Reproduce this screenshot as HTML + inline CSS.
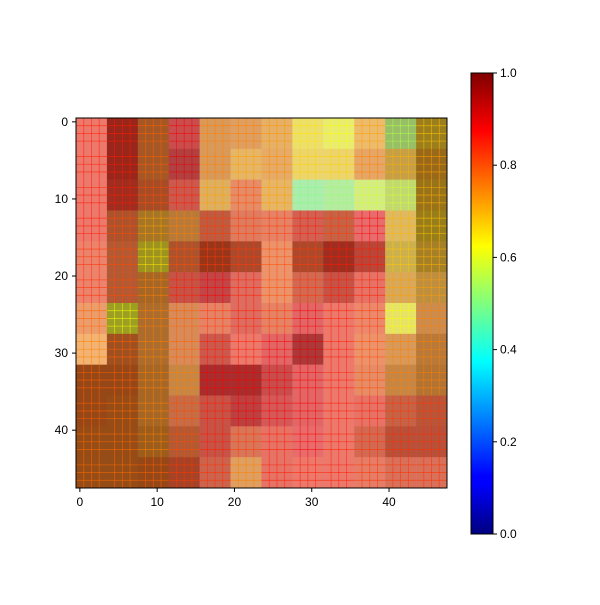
<!DOCTYPE html>
<html><head><meta charset="utf-8"><style>
body{margin:0;background:#fff;}
svg text{font-family:"Liberation Sans",sans-serif;font-size:12px;fill:#000;}
</style></head><body>
<svg id="chart" width="600" height="600">
<defs><linearGradient id="jet" x1="0" y1="1" x2="0" y2="0">
<stop offset="0" stop-color="#00007f"/><stop offset="0.11" stop-color="#0000ff"/><stop offset="0.125" stop-color="#0000ff"/>
<stop offset="0.375" stop-color="#00ffff"/><stop offset="0.5" stop-color="#7fff7f"/><stop offset="0.625" stop-color="#ffff00"/>
<stop offset="0.875" stop-color="#ff0000"/><stop offset="1" stop-color="#7f0000"/></linearGradient></defs>
<g id="cells"></g>
<rect x="76" y="118" width="371" height="370" fill="none" stroke="#000" stroke-width="1"/>
<g id="axes"></g>
<rect x="471" y="73" width="22" height="461" fill="url(#jet)" stroke="#000" stroke-width="1"/>
<g id="cbar"></g>
</svg>
<script>
const heat = [
[.85,.85,.78,.88,.75,.75,.73,.65,.62,.72,.55,.68],
[.85,.85,.78,.9,.75,.72,.74,.67,.67,.75,.7,.72],
[.85,.85,.8,.85,.72,.8,.72,.5,.52,.58,.58,.7],
[.85,.8,.72,.75,.82,.82,.82,.85,.82,.88,.7,.68],
[.83,.8,.65,.8,.82,.82,.8,.82,.85,.85,.68,.7],
[.83,.8,.75,.85,.88,.85,.8,.83,.85,.85,.72,.72],
[.78,.62,.75,.78,.82,.85,.82,.88,.85,.82,.63,.75],
[.75,.78,.75,.78,.85,.85,.88,.9,.85,.8,.75,.75],
[.78,.78,.75,.75,.88,.88,.88,.88,.85,.8,.75,.75],
[.78,.77,.75,.8,.85,.88,.88,.88,.85,.85,.82,.82],
[.77,.77,.75,.8,.85,.82,.85,.88,.85,.83,.83,.83],
[.77,.77,.78,.82,.83,.75,.85,.85,.85,.83,.83,.83]];
const face = [
[.85,.2,.3,.6,.7,.75,.8,.85,.85,.85,.5,.22],
[.85,.2,.3,.5,.7,.8,.8,.85,.85,.8,.55,.2],
[.85,.25,.3,.6,.75,.8,.8,.85,.85,.85,.7,.2],
[.85,.35,.3,.45,.5,.75,.8,.65,.55,.85,.75,.2],
[.85,.4,.25,.35,.2,.35,.85,.35,.25,.45,.6,.3],
[.85,.4,.3,.55,.55,.75,.85,.65,.55,.8,.7,.5],
[.85,.25,.35,.7,.8,.75,.8,.8,.85,.85,.8,.6],
[.9,.25,.35,.7,.6,.85,.8,.45,.85,.85,.7,.45],
[.18,.18,.3,.55,.35,.35,.6,.8,.85,.8,.55,.4],
[.18,.18,.3,.55,.55,.5,.7,.8,.85,.8,.55,.45],
[.18,.18,.22,.4,.55,.7,.8,.85,.85,.65,.45,.45],
[.18,.18,.18,.3,.6,.75,.8,.85,.85,.8,.7,.7]];
const xTicks = [0,10,20,30,40];
const cbTicks = [0.0,0.2,0.4,0.6,0.8,1.0];
const NS='http://www.w3.org/2000/svg';
const X0=76,Y0=118,PW=371/48,PH=370/48;
const px=i=>X0+(i+0.5)*PW, py=i=>Y0+(i+0.5)*PH;
const cl=v=>Math.max(0,Math.min(1,v));
function jet(v){return [cl(1.5-Math.abs(4*v-3)),cl(1.5-Math.abs(4*v-2)),cl(1.5-Math.abs(4*v-1))];}
function rgb(c){return 'rgb('+c.map(x=>Math.round(x*255)).join(',')+')';}
const cells=document.getElementById('cells');
for(let r=0;r<12;r++)for(let c=0;c<12;c++){
  const j=jet(heat[r][c]), g=face[r][c];
  const mix=j.map(x=>0.5*x+0.5*g);
  const b=document.createElementNS(NS,'rect');
  b.setAttribute('x',X0+c*4*PW);b.setAttribute('y',Y0+r*4*PH);
  b.setAttribute('width',4*PW+0.3);b.setAttribute('height',4*PH+0.3);
  b.setAttribute('fill',rgb(mix));
  
  
  cells.appendChild(b);
  const col=rgb(j);
  for(let k=1;k<4;k++){
    const lv=document.createElementNS(NS,'line');
    const xx=X0+(c*4+k)*PW;
    lv.setAttribute('x1',xx);lv.setAttribute('x2',xx);lv.setAttribute('y1',Y0+r*4*PH);lv.setAttribute('y2',Y0+(r+1)*4*PH);
    lv.setAttribute('stroke',col);lv.setAttribute('stroke-opacity','0.6');lv.setAttribute('stroke-width','0.8');
    
    
    cells.appendChild(lv);
    const lh=document.createElementNS(NS,'line');
    const yy=Y0+(r*4+k)*PH;
    lh.setAttribute('y1',yy);lh.setAttribute('y2',yy);lh.setAttribute('x1',X0+c*4*PW);lh.setAttribute('x2',X0+(c+1)*4*PW);
    lh.setAttribute('stroke',col);lh.setAttribute('stroke-opacity','0.6');lh.setAttribute('stroke-width','0.8');
    
    
    cells.appendChild(lh);
  }
}
const axes=document.getElementById('axes');
xTicks.forEach(t=>{
  const x=px(t),y=py(t);
  const a=document.createElementNS(NS,'line');a.setAttribute('x1',x);a.setAttribute('x2',x);a.setAttribute('y1',488);a.setAttribute('y2',492);a.setAttribute('stroke','#000');
  
  
  axes.appendChild(a);
  const tx=document.createElementNS(NS,'text');tx.setAttribute('x',x);tx.setAttribute('y',506);tx.setAttribute('text-anchor','middle');tx.textContent=t;
  
  
  axes.appendChild(tx);
  const b=document.createElementNS(NS,'line');b.setAttribute('x1',72);b.setAttribute('x2',76);b.setAttribute('y1',y);b.setAttribute('y2',y);b.setAttribute('stroke','#000');
  
  
  axes.appendChild(b);
  const ty=document.createElementNS(NS,'text');ty.setAttribute('x',68);ty.setAttribute('y',y+4);ty.setAttribute('text-anchor','end');ty.textContent=t;
  
  
  axes.appendChild(ty);
});
const cb=document.getElementById('cbar');
cbTicks.forEach(t=>{
  const y=534-t*461;
  const a=document.createElementNS(NS,'line');a.setAttribute('x1',493);a.setAttribute('x2',497);a.setAttribute('y1',y);a.setAttribute('y2',y);a.setAttribute('stroke','#000');
  
  
  cb.appendChild(a);
  const tx=document.createElementNS(NS,'text');tx.setAttribute('x',500);tx.setAttribute('y',y+4);tx.textContent=t.toFixed(1);
  
  
  cb.appendChild(tx);
});
</script>
</body></html>
